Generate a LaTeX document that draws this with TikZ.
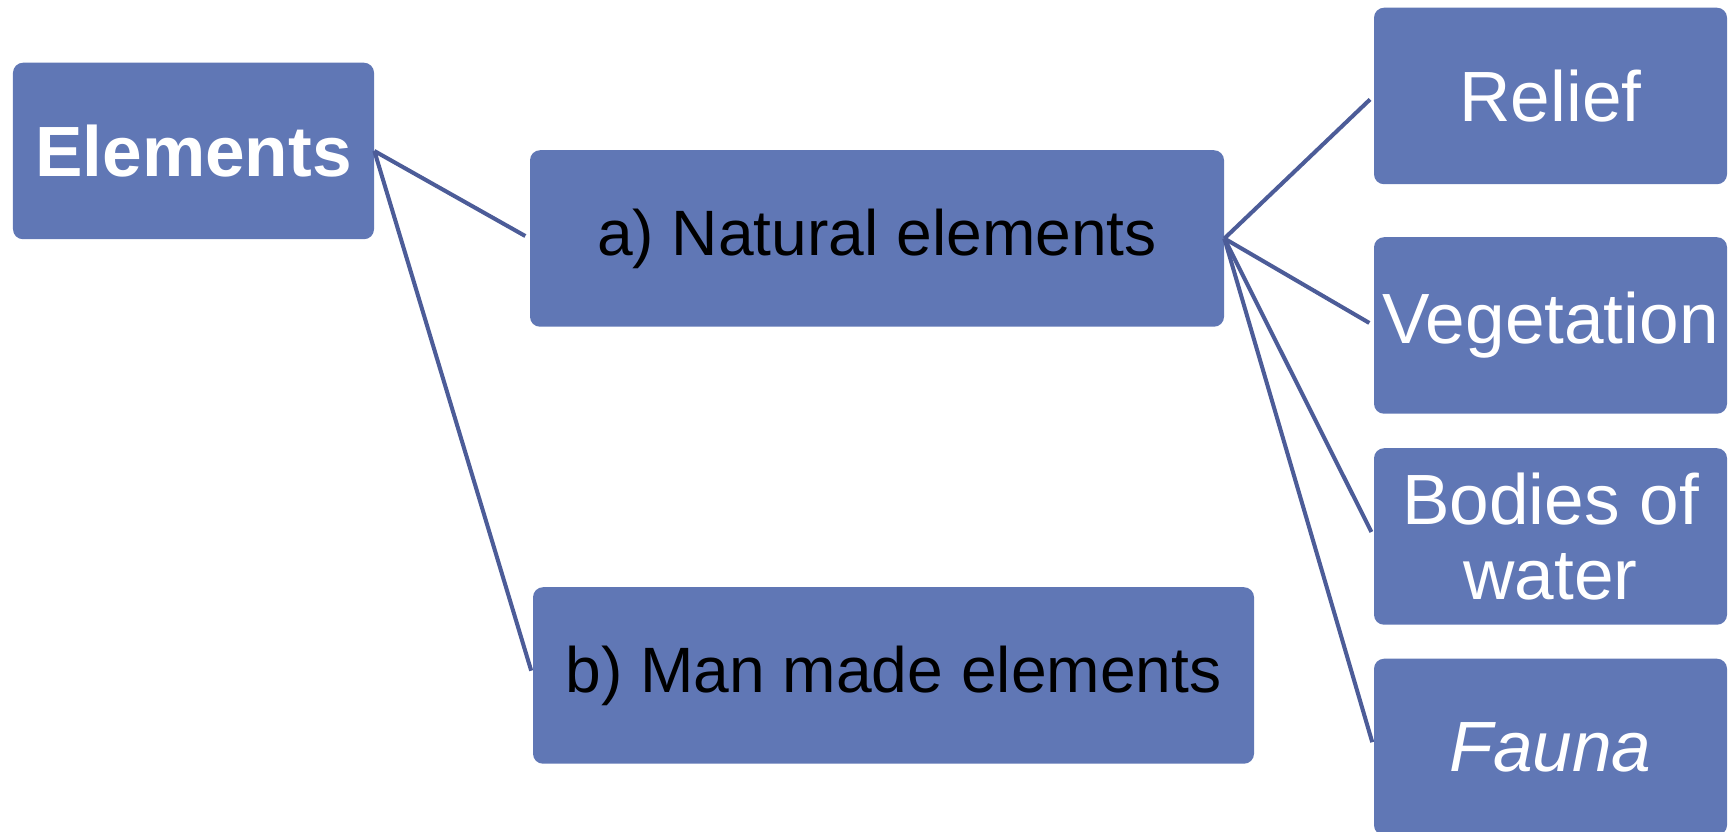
\documentclass[tikz,border=0pt]{standalone}
\usepackage{fontspec}
\setmainfont{Liberation Sans}
\usetikzlibrary{calc}
\definecolor{boxblue}{RGB}{96,119,181}
\definecolor{lineblue}{RGB}{76,92,152}
\newcommand{\bigfont}{\fontsize{40.5}{42.5}\selectfont}
\newcommand{\kindfont}{\fontsize{36.5}{38}\selectfont}
\tikzset{
	elem box/.style={fill=boxblue, rounded corners=0.2cm, inner sep=0pt, align=center,
		text=white, minimum height=3.53cm, font=\bigfont},
	kind box/.style={elem box, text=black, font=\kindfont},
	item box/.style={elem box, minimum width=7.06cm},
	link/.style={lineblue, line width=2.3pt, shorten >=0.1cm},
}
\begin{document}
\begin{tikzpicture}
		% fixed page size
		\useasboundingbox (0,0) rectangle (34.56,16.64);
		\node[elem box, minimum width=7.22cm, font=\bigfont\bfseries] (elements) at (3.87,13.62) {Elements};
		\node[kind box, minimum width=13.88cm] (natural) at (17.54,11.87) {a) Natural elements};
		\node[kind box, minimum width=14.42cm] (manmade) at (17.87,3.13) {b) Man made elements};
		\node[item box] (relief) at (31.01,14.72) {Relief};
		\node[item box] (vegetation) at (31.01,10.13) {Vegetation};
		\node[item box] (water) at (31.01,5.91) {Bodies of\\water};
		\node[item box, font=\bigfont\itshape] (fauna) at (31.01,1.70) {Fauna};
		\draw[link] (elements.east) -- (natural.west);
		\draw[link] (elements.east) -- (manmade.west);
		\foreach \n in {relief,vegetation,water,fauna}
			\draw[link] (natural.east) -- (\n.west);
	\end{tikzpicture}
\end{document}
